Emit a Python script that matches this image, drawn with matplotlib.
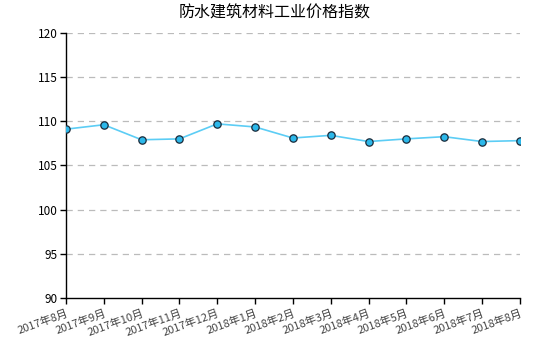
import matplotlib
matplotlib.use("Agg")
import matplotlib.pyplot as plt

plt.rcParams['font.family'] = ['Noto Sans CJK SC', 'DejaVu Sans']

months = ["2017年8月", "2017年9月", "2017年10月", "2017年11月", "2017年12月",
          "2018年1月", "2018年2月", "2018年3月", "2018年4月", "2018年5月",
          "2018年6月", "2018年7月", "2018年8月"]
values = [109.1, 109.6, 107.9, 108.0, 109.7, 109.35, 108.1, 108.4, 107.7,
          108.0, 108.25, 107.7, 107.8]
yticks = [90, 95, 100, 105, 110, 115, 120]
title = "防水建筑材料工业价格指数"

fig = plt.figure(figsize=(5.5, 3.5), dpi=100)
ax = fig.add_axes([0.12, 0.149, 0.825, 0.757])
x = list(range(len(months)))
ax.plot(x, values, color='#5ccdf5', linewidth=1.2, zorder=3)
ax.scatter(x, values, s=28, facecolor='#2cb8ea', edgecolor='#1a2a3a',
           linewidth=0.9, zorder=4)
ax.set_xlim(0, len(months) - 1)
ax.set_ylim(90, 120)
ax.set_yticks(yticks)
ax.set_yticklabels([str(v) for v in yticks], fontsize=8.5)
ax.set_xticks(x)
ax.set_xticklabels(months, rotation=20, ha='right', fontsize=8,
                   color='#444444', rotation_mode='anchor')
for v in yticks[1:]:
    ax.axhline(v, color='#bbbbbb', linestyle=(0, (5, 4)), linewidth=0.9, zorder=1)
for s in ['top', 'right']:
    ax.spines[s].set_visible(False)
ax.spines['left'].set_linewidth(1.0)
ax.spines['bottom'].set_linewidth(1.0)
ax.tick_params(axis='both', direction='out', length=4, width=1, pad=2)
ax.tick_params(axis='x', pad=3)
fig.text(0.5, 0.962, title, ha='center', va='center', fontsize=11.5)
fig.savefig("out.png", dpi=100)
